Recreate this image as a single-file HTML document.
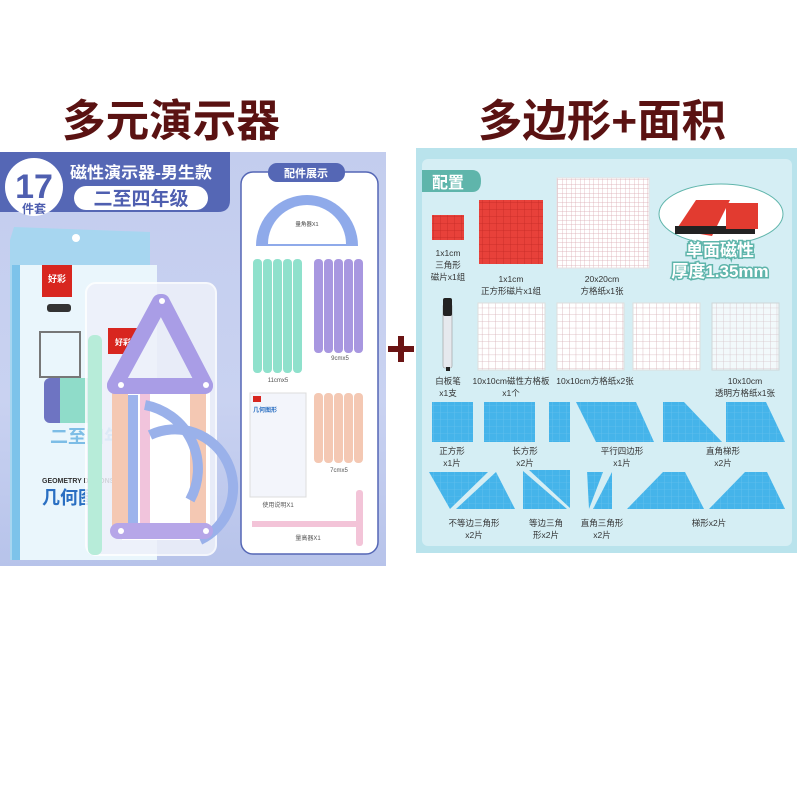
<!DOCTYPE html>
<html><head><meta charset="utf-8">
<style>
html,body{margin:0;padding:0;background:#fff;}
svg{display:block;}
text{font-family:"Liberation Sans","Noto Sans CJK SC",sans-serif;}
</style></head>
<body>
<svg width="800" height="800" viewBox="0 0 800 800" xmlns="http://www.w3.org/2000/svg">
<defs>
<linearGradient id="lbg" x1="0" y1="0" x2="0" y2="1">
<stop offset="0" stop-color="#c3cdee"/><stop offset="0.6" stop-color="#c9d2f1"/><stop offset="1" stop-color="#b7c3ea"/>
</linearGradient>
<pattern id="grid" width="4.5" height="4.5" patternUnits="userSpaceOnUse">
<rect width="4.5" height="4.5" fill="#fff"/><path d="M4.5 0V4.5H0" fill="none" stroke="#d9a8b0" stroke-width="0.7"/>
</pattern>
<pattern id="grid2" width="6.7" height="6.7" patternUnits="userSpaceOnUse">
<rect width="6.7" height="6.7" fill="#fff"/><path d="M6.7 0V6.7H0" fill="none" stroke="#d6b0b6" stroke-width="0.8"/>
</pattern>
<pattern id="rgrid" width="7" height="7" patternUnits="userSpaceOnUse">
<rect width="7" height="7" fill="#e8413a"/><path d="M7 0V7H0" fill="none" stroke="#c42a25" stroke-width="0.8"/>
</pattern>
<pattern id="bgrid" width="7" height="7" patternUnits="userSpaceOnUse">
<rect width="7" height="7" fill="#45b4ea"/><path d="M7 0V7H0" fill="none" stroke="#6fc6ef" stroke-width="0.6"/>
</pattern>
</defs>

<text x="171" y="136" font-size="44" font-weight="bold" fill="#5a1212" text-anchor="middle" textLength="218" lengthAdjust="spacingAndGlyphs">多元演示器</text>
<text x="602" y="136" font-size="44" font-weight="bold" fill="#5a1212" text-anchor="middle" textLength="248" lengthAdjust="spacingAndGlyphs">多边形+面积</text>

<rect x="388" y="346" width="26" height="6" fill="#6a1414"/>
<rect x="398" y="336" width="6" height="26" fill="#6a1414"/>

<!-- LEFT PANEL -->
<rect x="0" y="152" width="386" height="414" fill="url(#lbg)"/>
<path d="M0 152H230V200Q230 212 218 212H0Z" fill="#5567b5"/>
<circle cx="34" cy="187" r="29" fill="#fff"/>
<text x="34" y="198" font-size="34" font-weight="bold" fill="#4f5fb0" text-anchor="middle">17</text>
<text x="34" y="213" font-size="12" font-weight="bold" fill="#4f5fb0" text-anchor="middle">件套</text>
<text x="141" y="178" font-size="16" font-weight="bold" fill="#fff" text-anchor="middle" textLength="142" lengthAdjust="spacingAndGlyphs">磁性演示器-男生款</text>
<rect x="74" y="186" width="134" height="24" rx="12" fill="#fff"/>
<text x="141" y="205" font-size="19" font-weight="bold" fill="#4f5fb0" text-anchor="middle">二至四年级</text>

<path d="M14 227L150 232V560H10V240Z" fill="#a7d6f0"/>
<rect x="12" y="265" width="145" height="295" fill="#eaf6fc"/>
<rect x="12" y="265" width="8" height="295" fill="#7cc3ea"/>
<circle cx="76" cy="238" r="4" fill="#fff"/>
<rect x="42" y="265" width="30" height="32" fill="#d8261f"/>
<text x="57" y="282" font-size="9" font-weight="bold" fill="#fff" text-anchor="middle">好彩</text>
<rect x="47" y="304" width="24" height="8" rx="3" fill="#333"/>
<rect x="40" y="332" width="40" height="45" fill="none" stroke="#777" stroke-width="2"/>
<rect x="44" y="378" width="40" height="45" rx="6" fill="#6e74c2"/>
<rect x="60" y="378" width="35" height="45" fill="#8fdcc9"/>
<text x="50" y="443" font-size="18" font-weight="bold" fill="#7dbde6">二至四年</text>
<text x="42" y="483" font-size="7" font-weight="bold" fill="#333">GEOMETRY DEMONS</text>
<text x="42" y="504" font-size="18" font-weight="bold" fill="#2a6fc2">几何图</text>

<rect x="86" y="283" width="130" height="272" rx="10" fill="#eef1fa" opacity="0.85" stroke="#fff" stroke-width="2"/>
<rect x="88" y="335" width="14" height="220" rx="6" fill="#b7ecd9"/>
<rect x="108" y="328" width="30" height="26" fill="#d8261f"/>
<text x="123" y="345" font-size="8" font-weight="bold" fill="#fff" text-anchor="middle">好彩</text>
<rect x="122" y="385" width="88" height="155" fill="#fff"/>
<rect x="112" y="382" width="16" height="150" rx="4" fill="#f4c8b3"/>
<rect x="190" y="382" width="16" height="150" rx="4" fill="#f4c8b3"/>
<rect x="128" y="395" width="10" height="140" fill="#9cb3ec"/>
<rect x="140" y="390" width="10" height="140" fill="#f1c4dc"/>
<path d="M145 405A65 65 0 0 1 190 500" fill="none" stroke="#9ab1ea" stroke-width="10"/>
<path d="M150 435A55 55 0 0 1 200 540" fill="none" stroke="#9ab1ea" stroke-width="10"/>
<path d="M160 302L115 385" stroke="#a99de6" stroke-width="16" stroke-linecap="round"/>
<path d="M162 302L205 385" stroke="#a99de6" stroke-width="16" stroke-linecap="round"/>
<path d="M115 386H205" stroke="#a99de6" stroke-width="16" stroke-linecap="round"/>
<path d="M118 531H205" stroke="#b6a6e8" stroke-width="16" stroke-linecap="round"/>
<circle cx="162" cy="301" r="3" fill="#fff"/><circle cx="121" cy="385" r="3" fill="#fff"/><circle cx="206" cy="385" r="3" fill="#fff"/>
<circle cx="121" cy="531" r="3" fill="#fff"/><circle cx="206" cy="531" r="3" fill="#fff"/>

<rect x="241" y="172" width="137" height="382" rx="12" fill="#fff" stroke="#5567b5" stroke-width="1.5"/>
<rect x="268" y="163" width="77" height="19" rx="9" fill="#5567b5"/>
<text x="306" y="177" font-size="11" font-weight="bold" fill="#fff" text-anchor="middle">配件展示</text>
<path d="M256 246A51 51 0 0 1 358 246Z" fill="#8faaea"/>
<path d="M268 244A39 39 0 0 1 346 244Z" fill="#fff"/>
<text x="307" y="226" font-size="5.5" fill="#444" text-anchor="middle">量角器X1</text>
<g fill="#8fe1cc">
<rect x="253" y="259" width="9" height="114" rx="4"/><rect x="263" y="259" width="9" height="114" rx="4"/><rect x="273" y="259" width="9" height="114" rx="4"/><rect x="283" y="259" width="9" height="114" rx="4"/><rect x="293" y="259" width="9" height="114" rx="4"/>
</g>
<g fill="#a897e0">
<rect x="314" y="259" width="9" height="94" rx="4"/><rect x="324" y="259" width="9" height="94" rx="4"/><rect x="334" y="259" width="9" height="94" rx="4"/><rect x="344" y="259" width="9" height="94" rx="4"/><rect x="354" y="259" width="9" height="94" rx="4"/>
</g>
<text x="340" y="360" font-size="6" fill="#555" text-anchor="middle">9cmx5</text>
<text x="278" y="382" font-size="6" fill="#555" text-anchor="middle">11cmx5</text>
<rect x="250" y="393" width="56" height="104" fill="#f3f5fb" stroke="#ddd"/>
<rect x="253" y="396" width="8" height="6" fill="#d8261f"/>
<text x="253" y="412" font-size="6" font-weight="bold" fill="#2a6fc2">几何图形</text>
<g fill="#f4c8b3">
<rect x="314" y="393" width="9" height="70" rx="4"/><rect x="324" y="393" width="9" height="70" rx="4"/><rect x="334" y="393" width="9" height="70" rx="4"/><rect x="344" y="393" width="9" height="70" rx="4"/><rect x="354" y="393" width="9" height="70" rx="4"/>
</g>
<text x="339" y="472" font-size="6" fill="#555" text-anchor="middle">7cmx5</text>
<text x="278" y="507" font-size="6" fill="#555" text-anchor="middle">使用说明X1</text>
<rect x="252" y="521" width="105" height="6" fill="#f3c4d8"/>
<rect x="356" y="490" width="7" height="56" rx="3" fill="#f3c4d8"/>
<text x="308" y="540" font-size="6" fill="#555" text-anchor="middle">量高器X1</text>

<!-- RIGHT PANEL -->
<rect x="416" y="148" width="381" height="405" fill="#b9e3ec"/>
<rect x="422" y="159" width="370" height="387" rx="6" fill="#d5eef4"/>
<path d="M422 170H472Q481 170 481 181Q481 192 472 192H422Z" fill="#5fb5ab"/>
<text x="448" y="188" font-size="16" font-weight="bold" fill="#fff" text-anchor="middle">配置</text>

<rect x="432" y="215" width="32" height="25" fill="url(#rgrid)"/>
<rect x="479" y="200" width="64" height="64" fill="url(#rgrid)"/>
<rect x="557" y="178" width="92" height="90" fill="url(#grid)" stroke="#e9e0e2"/>
<ellipse cx="721" cy="214" rx="62" ry="30" fill="#fff" stroke="#5fb5ab" stroke-width="1"/>
<path d="M676 230L696 200H730L712 236Z" fill="#e23b30"/>
<rect x="675" y="226" width="80" height="8" fill="#222"/>
<rect x="726" y="203" width="32" height="26" fill="#e23b30"/>
<text x="720" y="256" font-size="17" font-weight="bold" fill="#fff" stroke="#5fb5ab" stroke-width="3" paint-order="stroke" text-anchor="middle">单面磁性</text>
<text x="720" y="277" font-size="17" font-weight="bold" fill="#fff" stroke="#5fb5ab" stroke-width="3" paint-order="stroke" text-anchor="middle">厚度1.35mm</text>

<g font-size="8.5" fill="#333" text-anchor="middle">
<text x="448" y="256">1x1cm</text><text x="448" y="268">三角形</text><text x="448" y="280">磁片x1组</text>
<text x="511" y="282">1x1cm</text><text x="511" y="294">正方形磁片x1组</text>
<text x="602" y="282">20x20cm</text><text x="602" y="294">方格纸x1张</text>
<text x="448" y="384">白板笔</text><text x="448" y="396">x1支</text>
<text x="511" y="384">10x10cm磁性方格板</text><text x="511" y="396">x1个</text>
<text x="595" y="384">10x10cm方格纸x2张</text>
<text x="745" y="384">10x10cm</text><text x="745" y="396">透明方格纸x1张</text>
<text x="452" y="454">正方形</text><text x="452" y="466">x1片</text>
<text x="525" y="454">长方形</text><text x="525" y="466">x2片</text>
<text x="622" y="454">平行四边形</text><text x="622" y="466">x1片</text>
<text x="723" y="454">直角梯形</text><text x="723" y="466">x2片</text>
<text x="474" y="526">不等边三角形</text><text x="474" y="538">x2片</text>
<text x="546" y="526">等边三角</text><text x="546" y="538">形x2片</text>
<text x="602" y="526">直角三角形</text><text x="602" y="538">x2片</text>
<text x="709" y="526">梯形x2片</text>
</g>

<rect x="443" y="304" width="9" height="64" rx="2" fill="#e6e9ee" stroke="#999" stroke-width="0.6"/>
<rect x="443" y="298" width="9" height="18" rx="2" fill="#222"/>
<rect x="446" y="367" width="4" height="4" fill="#222"/>
<rect x="478" y="303" width="67" height="67" fill="url(#grid2)" stroke="#ddd"/>
<rect x="557" y="303" width="67" height="67" fill="url(#grid2)" stroke="#ddd"/>
<rect x="633" y="303" width="67" height="67" fill="url(#grid2)" stroke="#ddd"/>
<rect x="712" y="303" width="67" height="67" fill="url(#grid2)" stroke="#ccc" opacity="0.7"/>

<rect x="432" y="402" width="41" height="40" fill="url(#bgrid)"/>
<rect x="484" y="402" width="51" height="40" fill="url(#bgrid)"/>
<rect x="549" y="402" width="21" height="40" fill="url(#bgrid)"/>
<path d="M576 402H636L654 442H596Z" fill="url(#bgrid)"/>
<path d="M663 402H684L722 442H663Z" fill="url(#bgrid)"/>
<path d="M726 402H766L785 442H726Z" fill="url(#bgrid)"/>
<path d="M429 472H488L450 509Z" fill="url(#bgrid)"/>
<path d="M456 509L496 472L515 509Z" fill="url(#bgrid)"/>
<path d="M523 471L567 509H523Z" fill="url(#bgrid)"/>
<path d="M529 470H570V508Z" fill="url(#bgrid)"/>
<path d="M587 472H603L589 509Z" fill="url(#bgrid)"/>
<path d="M593 509L612 472V509Z" fill="url(#bgrid)"/>
<path d="M627 509L663 472H685L704 509Z" fill="url(#bgrid)"/>
<path d="M709 509L745 472H767L785 509Z" fill="url(#bgrid)"/>
</svg>
</body></html>
